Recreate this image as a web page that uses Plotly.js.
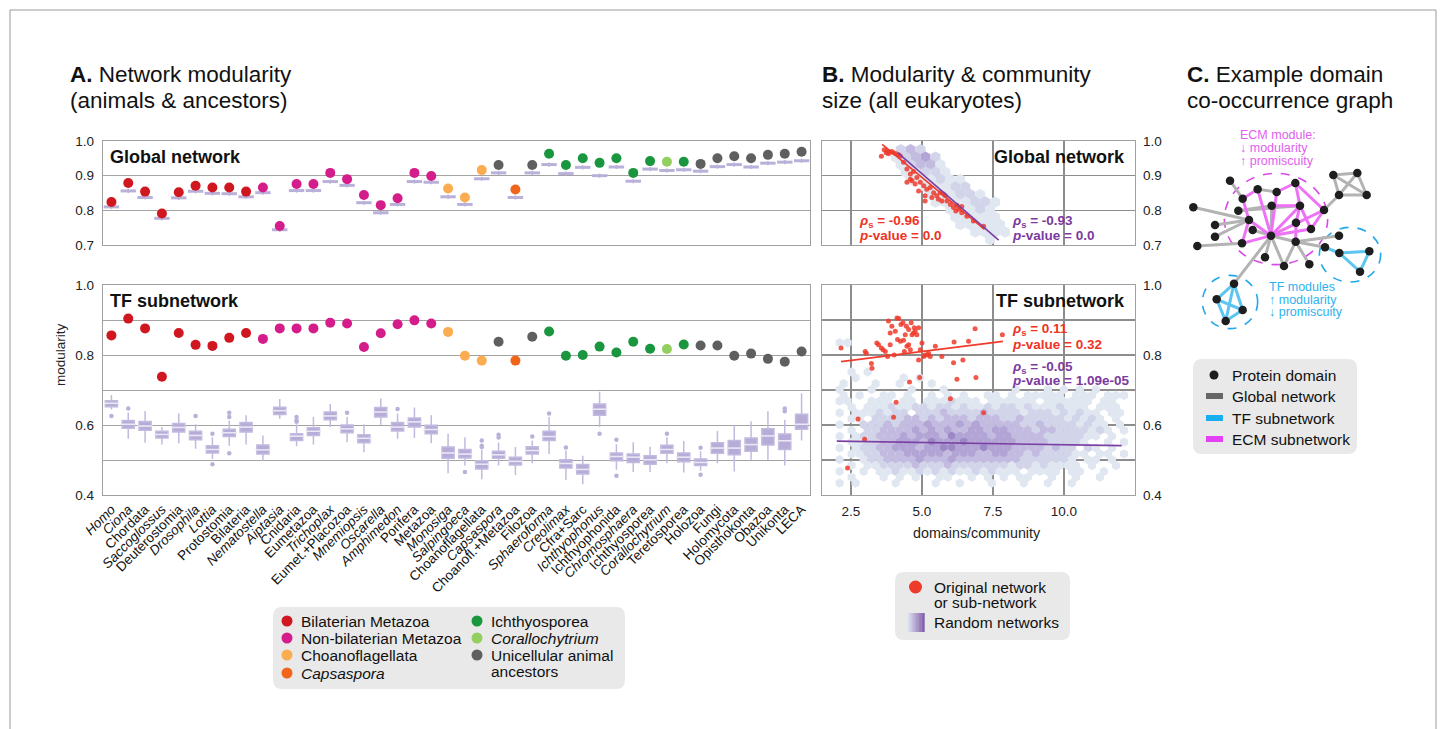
<!DOCTYPE html>
<html><head><meta charset="utf-8">
<script src="https://cdn.plot.ly/plotly-3.0.1.min.js"></script>
<style>html,body{margin:0;padding:0;background:#fff}</style>
</head><body><div id="chart" style="width:1447px;height:729px"></div>
<script>
// ---------------- DATA ----------------
const clades = ['Homo','Ciona','Chordata','Saccoglossus','Deuterostomia','Drosophila','Lottia','Protostomia','Bilateria','Nematostella','Aiptasia','Cnidaria','Eumetazoa','Trichoplax','Eumet.+Placozoa','Mnemiopsis','Oscarella','Amphimedon','Porifera','Metazoa','Monosiga','Salpingoeca','Choanoflagellata','Capsaspora','Choanofl.+Metazoa','Filozoa','Sphaeroforma','Creolimax','Cfra+Sarc','Ichthyophonus','Ichthyophonida','Chromosphaera','Ichthyosporea','Corallochytrium','Teretosporea','Holozoa','Fungi','Holomycota','Opisthokonta','Obazoa','Unikonta','LECA'];
const isSpecies = [1,1,0,1,0,1,1,0,0,1,1,0,0,1,0,1,1,1,0,0,1,1,0,1,0,0,1,1,0,1,0,1,0,1,0,0,0,0,0,0,0,0];
const cladeGroup = [0,0,0,0,0,0,0,0,0, 1,1,1,1,1,1,1,1,1,1,1, 2,2,2, 6,3,6, 4,4,4,4,4,4,4, 5,4, 6,6,6,6,6,6,6];
const groupNames = ['Bilaterian Metazoa','Non-bilaterian Metazoa','Choanoflagellata','<i>Capsaspora</i>','Ichthyosporea','<i>Corallochytrium</i>','Unicellular animal ancestors'];
const groupColors = ['#d0171f','#d41d8b','#fbac50','#f0651a','#1a963f','#93cf5e','#5f5f5f'];

const globalModularity = [0.824,0.879,0.854,0.791,0.852,0.871,0.866,0.866,0.854,0.866,0.755,0.876,0.876,0.908,0.890,0.844,0.815,0.835,0.908,0.899,0.863,0.837,0.916,0.931,0.860,0.931,0.963,0.931,0.950,0.937,0.950,0.908,0.942,0.940,0.940,0.934,0.950,0.956,0.950,0.960,0.963,0.969];
const globalRandomMedian = [0.810,0.856,0.837,0.777,0.836,0.855,0.849,0.848,0.839,0.851,0.744,0.857,0.857,0.883,0.872,0.822,0.793,0.817,0.883,0.881,0.839,0.817,0.891,0.908,0.837,0.908,0.932,0.906,0.924,0.900,0.925,0.884,0.919,0.915,0.917,0.913,0.926,0.932,0.925,0.936,0.939,0.943];

const tfModularity = [0.856,0.904,0.876,0.738,0.863,0.829,0.826,0.849,0.863,0.846,0.876,0.876,0.876,0.892,0.890,0.823,0.862,0.888,0.899,0.890,0.866,0.798,0.784,0.838,0.784,0.852,0.867,0.798,0.800,0.824,0.807,0.838,0.818,0.817,0.830,0.827,0.827,0.798,0.804,0.789,0.781,0.810];
const tfRandQ3 = [0.669,0.613,0.610,0.582,0.604,0.582,0.541,0.588,0.607,0.543,0.651,0.575,0.592,0.637,0.600,0.572,0.650,0.607,0.620,0.599,0.537,0.530,0.498,0.525,0.508,0.538,0.582,0.501,0.487,0.660,0.520,0.517,0.512,0.542,0.520,0.503,0.549,0.556,0.563,0.589,0.574,0.631];
const tfRandMedian = [0.662,0.602,0.597,0.573,0.593,0.570,0.530,0.578,0.594,0.529,0.641,0.568,0.582,0.626,0.589,0.562,0.637,0.594,0.609,0.587,0.520,0.517,0.488,0.515,0.496,0.527,0.567,0.490,0.473,0.645,0.510,0.508,0.501,0.530,0.508,0.493,0.534,0.534,0.544,0.569,0.555,0.602];
const tfRandQ1 = [0.652,0.591,0.585,0.563,0.580,0.558,0.520,0.567,0.580,0.517,0.630,0.556,0.570,0.615,0.578,0.549,0.623,0.583,0.594,0.575,0.505,0.506,0.474,0.505,0.486,0.517,0.556,0.477,0.460,0.628,0.498,0.493,0.488,0.519,0.495,0.484,0.519,0.515,0.525,0.543,0.530,0.588];
const tfRandLow = [0.644,0.561,0.549,0.544,0.548,0.532,0.503,0.541,0.544,0.498,0.618,0.539,0.544,0.594,0.551,0.522,0.601,0.561,0.563,0.548,0.462,0.484,0.445,0.484,0.457,0.491,0.517,0.443,0.431,0.594,0.472,0.466,0.466,0.491,0.464,0.469,0.491,0.467,0.501,0.501,0.484,0.556];
const tfRandHigh = [0.686,0.636,0.640,0.594,0.633,0.602,0.565,0.613,0.628,0.570,0.674,0.602,0.623,0.660,0.623,0.602,0.676,0.633,0.650,0.628,0.575,0.565,0.530,0.550,0.537,0.556,0.623,0.527,0.512,0.695,0.545,0.551,0.538,0.565,0.554,0.525,0.583,0.599,0.611,0.639,0.615,0.690];
const tfOutlierClade = ['Homo','Ciona','Drosophila','Lottia','Lottia','Protostomia','Protostomia','Protostomia','Cnidaria','Cnidaria','Cnidaria','Eumet.+Placozoa','Amphimedon','Salpingoeca','Choanoflagellata','Choanoflagellata','Choanoflagellata','Capsaspora','Capsaspora','Filozoa','Sphaeroforma','Creolimax','Ichthyophonus','Ichthyophonida','Ichthyophonida','Corallochytrium','Holozoa','Holozoa','Unikonta','Unikonta'];
const tfOutlierValue = [0.626,0.647,0.626,0.575,0.488,0.635,0.623,0.519,0.623,0.613,0.609,0.635,0.646,0.466,0.556,0.541,0.537,0.572,0.564,0.567,0.633,0.536,0.575,0.558,0.455,0.575,0.535,0.458,0.647,0.639];

// Panel B: original networks (domains/community vs modularity)
const globalOrigSize = [3.57,3.67,3.74,3.77,3.82,3.86,3.94,4.0,4.09,4.18,4.24,4.35,4.47,4.47,4.59,4.59,4.65,4.70,4.76,4.82,4.88,4.94,5.06,5.11,5.11,5.17,5.29,5.35,5.41,5.52,5.58,5.64,5.70,5.76,5.82,5.88,6.0,6.11,6.19,6.23,6.29,6.40,6.40,6.58,6.81,7.17];
const globalOrigMod = [0.956,0.975,0.966,0.971,0.963,0.968,0.970,0.966,0.963,0.960,0.956,0.939,0.919,0.881,0.905,0.890,0.885,0.912,0.876,0.895,0.856,0.881,0.871,0.827,0.842,0.861,0.866,0.837,0.851,0.842,0.832,0.851,0.827,0.847,0.842,0.827,0.817,0.808,0.798,0.815,0.803,0.793,0.811,0.783,0.769,0.754];
const tfOrigSize = [2.15,2.38,2.75,2.98,3.0,3.04,3.22,3.24,3.41,3.47,3.57,3.63,3.71,3.79,3.82,3.88,3.88,3.94,4.0,4.02,4.06,4.09,4.12,4.14,4.18,4.24,4.26,4.33,4.35,4.38,4.41,4.45,4.47,4.53,4.53,4.56,4.59,4.62,4.65,4.70,4.73,4.76,4.82,4.88,4.88,4.92,4.94,5.0,5.06,5.11,5.2,5.23,5.29,5.47,5.7,6.0,6.11,6.13,6.23,6.44,6.64,6.87,6.9,7.17,7.83];
const tfOrigMod = [0.820,0.477,0.617,0.559,0.810,0.805,0.776,0.762,0.834,0.829,0.820,0.815,0.810,0.796,0.897,0.829,0.863,0.882,0.622,0.800,0.868,0.665,0.906,0.844,0.904,0.839,0.887,0.892,0.842,0.810,0.858,0.882,0.825,0.873,0.829,0.723,0.815,0.892,0.858,0.863,0.878,0.868,0.858,0.878,0.786,0.736,0.815,0.834,0.796,0.800,0.800,0.805,0.796,0.825,0.796,0.675,0.778,0.837,0.731,0.786,0.839,0.875,0.736,0.635,0.858];
// regression lines (end points)
const globalFitOrigX = [3.6,7.2],  globalFitOrigY = [0.990,0.745];
const globalFitRandX = [4.15,7.7], globalFitRandY = [0.966,0.714];
const tfFitOrigX = [2.15,7.85],    tfFitOrigY = [0.781,0.839];
const tfFitRandX = [2.0,12.03],    tfFitRandY = [0.554,0.541];
// hexbin counts of random networks (density class per bin, '.' = empty); rows top->bottom
const globalHexBins = {x0:3.9, dx:0.35, yTop:0.975, dy:0.0216};
const globalHexRows = [
 '.232........',
 '12342.......',
 '.12331......',
 '.11221......',
 '..111211....',
 '...11122....',
 '....111221..',
 '....1111221.',
 '......11121.',
 '......11111.',
 '.......11111',
 '........1111',
 '..........1.'];
const tfHexBins = {x0:2.1, dx:0.282, yTop:0.835, dy:0.0167};
const tfHexRows = [
 '11..................................',
 '....................................',
 '....................................',
 '....................................',
 '....................................',
 '.1.1................................',
 '..1.....1.1.........................',
 '1...1..1...1........................',
 '1...1....1...1........1...1.1.1.1...',
 '1.1..11.1..1.1.1..11.1.11111.111.111',
 '11..111.11.1112111.111111.111111.11.',
 '.1.1112112212212112122121112111.111.',
 '1.1112122.22232222322221222121211.11',
 '.11.22223323233323332232222212121.1.',
 '1..2223233343334343333322322221211.1',
 '.1.2233334343433443443332332222121.1',
 '1.1223334344435444434433332222211.1.',
 '.112233444354445444444333322221..1.1',
 '1.1223344434455444544433332322.21.1.',
 '.112233344444344433443323222211.11.1',
 '1..122333343334333333332222221.11.1.',
 '.1.112222322232222222122121111.1..1.',
 '1..1.112112121211212111.1111.11..1..',
 '.1...1.1.1..11..1.1.1.11..1..1..1...',
 '1.1....1....1..1...1...1..1..1......'];
const hexPalette = ['#e0e7f1','#d2d5ea','#c3bce0','#b2a5d5','#9d88c6','#8568b3'];

// Panel C: example graph (layout coordinates)
const nodeX = [180,263,320,376,218,305,390,462,70,205,237,135,378,248,423,135,303,216,377,82,285,342,418,490,562,507,590,507,465,508,598,570,192,140,218,167];
const nodeY = [272,298,306,279,326,347,347,360,352,362,390,405,398,420,417,440,437,460,455,468,502,528,523,255,249,315,315,437,472,489,484,545,581,628,660,693];
const globalEdges = [[0,4],[9,5],[8,10],[11,10],[15,10],[19,17],[13,16],[16,20],[16,21],[16,32],[5,16],[16,18],[18,27],[18,28],[18,22],[18,21],[7,25],[1,2],[9,6],[23,24],[23,25],[24,26],[25,26],[23,26],[24,25]];
const ecmEdges = [[4,1],[1,16],[2,3],[3,6],[3,7],[5,6],[6,16],[6,12],[6,14],[12,18],[10,16],[10,17],[10,4],[17,16],[16,7],[16,14],[14,7],[2,16]];
const tfEdges = [[28,29],[29,30],[30,31],[31,29],[32,33],[32,34],[32,35],[33,34],[33,35],[34,35]];
const moduleCircles = [
  {cx:318, cy:387, rx:155, ry:137, kind:'ecm'},
  {cx:540, cy:494, rx:92,  ry:82,  kind:'tf'},
  {cx:180, cy:636, rx:83,  ry:80,  kind:'tf'}];

// ---------------- HELPERS ----------------
const W = 1447, H = 729;
const px = v => v / W, py = v => 1 - v / H;
const FONT = 'Liberation Sans, Arial, Helvetica, sans-serif';
const LAV = '#bab1da';
const C_ECM = '#e25ef0', C_TF = '#2eb2ee', C_GRAY = '#b3b3b3';

function hexPoints(rows, g) {
  const xs = [], ys = [], cs = [];
  rows.forEach((row, r) => {
    for (let i = 0; i < row.length; i++) {
      const ch = row[i];
      if (ch === '.') continue;
      xs.push(g.x0 + i * g.dx + (r % 2 ? g.dx / 2 : 0));
      ys.push(g.yTop - r * g.dy);
      cs.push(hexPalette[+ch - 1]);
    }
  });
  return {xs, ys, cs};
}
function edgeXY(edges) {
  const x = [], y = [];
  edges.forEach(([a, b]) => { x.push(nodeX[a], nodeX[b], null); y.push(nodeY[a], nodeY[b], null); });
  return {x, y};
}
function roundRect(x0, y0, x1, y1, r) {
  const X = px, Y = py;
  return `M${X(x0+r)},${Y(y0)} L${X(x1-r)},${Y(y0)} Q${X(x1)},${Y(y0)} ${X(x1)},${Y(y0+r)} L${X(x1)},${Y(y1-r)} Q${X(x1)},${Y(y1)} ${X(x1-r)},${Y(y1)} L${X(x0+r)},${Y(y1)} Q${X(x0)},${Y(y1)} ${X(x0)},${Y(y1-r)} L${X(x0)},${Y(y0+r)} Q${X(x0)},${Y(y0)} ${X(x0+r)},${Y(y0)} Z`;
}
const LEG = {family: FONT, size: 15.5, color: '#111'};
function ann(text, x, y, o = {}) {
  return Object.assign({text, x: px(x), y: py(y), xref: 'paper', yref: 'paper', showarrow: false,
    xanchor: 'left', yanchor: 'middle', font: LEG}, o);
}
const dotColors = cladeGroup.map(g => groupColors[g]);
const tickText = clades.map((c, i) => isSpecies[i] ? '<i>' + c + '</i>' : c);

// ---------------- TRACES ----------------
const traces = [];
// A global
traces.push({type: 'scatter', mode: 'markers', x: clades, y: globalRandomMedian, xaxis: 'x', yaxis: 'y',
  marker: {symbol: 'line-ew', size: 11, line: {width: 3, color: LAV}},
  error_y: {type: 'constant', value: 0.006, thickness: 1.5, width: 0, color: LAV}});
traces.push({type: 'scatter', mode: 'markers', x: clades, y: globalModularity, xaxis: 'x', yaxis: 'y',
  marker: {size: 10, color: dotColors}});
// A TF
traces.push({type: 'box', x: clades, q1: tfRandQ1, median: tfRandMedian, q3: tfRandQ3,
  lowerfence: tfRandLow, upperfence: tfRandHigh, xaxis: 'x2', yaxis: 'y2', boxpoints: false,
  width: 0.72, whiskerwidth: 0, fillcolor: '#b6acd7', line: {color: '#c2badf', width: 1.5}});
traces.push({type: 'scatter', mode: 'markers', x: clades, y: tfRandMedian, xaxis: 'x2', yaxis: 'y2',
  marker: {symbol: 'line-ew', size: 11, line: {width: 1.5, color: '#ebe7f5'}}});
traces.push({type: 'scatter', mode: 'markers', x: tfOutlierClade, y: tfOutlierValue, xaxis: 'x2', yaxis: 'y2',
  marker: {size: 4.5, color: LAV}});
traces.push({type: 'scatter', mode: 'markers', x: clades, y: tfModularity, xaxis: 'x2', yaxis: 'y2',
  marker: {size: 10, color: dotColors}});
// B global
const gh = hexPoints(globalHexRows, globalHexBins);
traces.push({type: 'scatter', mode: 'markers', x: gh.xs, y: gh.ys, xaxis: 'x3', yaxis: 'y3',
  marker: {symbol: 'hexagon', size: 11.5, color: gh.cs, line: {width: 0}}});
traces.push({type: 'scatter', mode: 'markers', x: globalOrigSize, y: globalOrigMod, xaxis: 'x3', yaxis: 'y3',
  marker: {size: 5, color: '#ef3b2c', opacity: 0.85}});
traces.push({type: 'scatter', mode: 'lines', x: globalFitOrigX, y: globalFitOrigY, xaxis: 'x3', yaxis: 'y3',
  line: {color: '#ef3b2c', width: 1.6}});
traces.push({type: 'scatter', mode: 'lines', x: globalFitRandX, y: globalFitRandY, xaxis: 'x3', yaxis: 'y3',
  line: {color: '#7b3fa3', width: 1.6}});
// B TF
const th = hexPoints(tfHexRows, tfHexBins);
traces.push({type: 'scatter', mode: 'markers', x: th.xs, y: th.ys, xaxis: 'x4', yaxis: 'y4',
  marker: {symbol: 'hexagon', size: 9.3, color: th.cs, line: {width: 0}}});
traces.push({type: 'scatter', mode: 'markers', x: tfOrigSize, y: tfOrigMod, xaxis: 'x4', yaxis: 'y4',
  marker: {size: 5, color: '#ef3b2c', opacity: 0.85}});
traces.push({type: 'scatter', mode: 'lines', x: tfFitOrigX, y: tfFitOrigY, xaxis: 'x4', yaxis: 'y4',
  line: {color: '#ef3b2c', width: 1.6}});
traces.push({type: 'scatter', mode: 'lines', x: tfFitRandX, y: tfFitRandY, xaxis: 'x4', yaxis: 'y4',
  line: {color: '#7b3fa3', width: 1.6}});
// C graph
[[globalEdges, C_GRAY], [ecmEdges, '#ee72f6'], [tfEdges, '#5cc5f2']].forEach(([E, col]) => {
  const e = edgeXY(E);
  traces.push({type: 'scatter', mode: 'lines', x: e.x, y: e.y, xaxis: 'x5', yaxis: 'y5',
    line: {color: col, width: 3}});
});
traces.push({type: 'scatter', mode: 'markers', x: nodeX, y: nodeY, xaxis: 'x5', yaxis: 'y5',
  marker: {size: 8.5, color: '#1e1e1e'}});

// ---------------- LAYOUT ----------------
const boxLine = {showline: true, mirror: true, linecolor: '#a0a0a0', linewidth: 1.2, zeroline: false};
const tf = {family: FONT, size: 13.5, color: '#222'};
const gridA = {showgrid: true, gridcolor: '#a3a3a3', gridwidth: 1};
const gridB = {showgrid: true, gridcolor: '#8d8d8d', gridwidth: 1.6};
const layout = {
  width: W, height: H, margin: {l: 0, r: 0, t: 0, b: 0}, paper_bgcolor: '#fff', plot_bgcolor: '#fff',
  showlegend: false, hovermode: false, font: {family: FONT},
  xaxis: Object.assign({domain: [px(103), px(810)], anchor: 'y', type: 'category', categoryorder: 'array',
    categoryarray: clades, range: [-0.5, 41.5], showticklabels: false, showgrid: false, ticks: ''}, boxLine),
  yaxis: Object.assign({domain: [py(245), py(141)], anchor: 'x', range: [0.7, 1.0], tickvals: [0.7, 0.8, 0.9, 1.0],
    ticktext: ['0.7', '0.8', '0.9', '1.0'], ticks: 'outside', ticklen: 5, tickcolor: 'rgba(0,0,0,0)', tickfont: tf}, gridA, boxLine),
  xaxis2: Object.assign({domain: [px(103), px(810)], anchor: 'y2', type: 'category', categoryorder: 'array',
    categoryarray: clades, range: [-0.5, 41.5], tickvals: clades, ticktext: tickText, tickangle: -45,
    tickfont: {family: FONT, size: 13.5, color: '#111'}, showgrid: false, ticks: ''}, boxLine),
  yaxis2: Object.assign({domain: [py(495), py(285)], anchor: 'x2', range: [0.4, 1.0], tickvals: [0.4, 0.6, 0.8, 1.0],
    ticktext: ['0.4', '0.6', '0.8', '1.0'], ticks: 'outside', ticklen: 5, tickcolor: 'rgba(0,0,0,0)', tickfont: tf,
    minor: {tickvals: [0.5, 0.7, 0.9], showgrid: true, gridcolor: '#a3a3a3', gridwidth: 1, ticks: ''}}, gridA, boxLine),
  xaxis3: Object.assign({domain: [px(822), px(1135)], anchor: 'y3', range: [1.48, 12.5], tickvals: [2.5, 5, 7.5, 10],
    showticklabels: false, ticks: ''}, gridB, boxLine),
  yaxis3: Object.assign({domain: [py(245), py(141)], anchor: 'x3', side: 'right', range: [0.7, 1.0],
    tickvals: [0.7, 0.8, 0.9, 1.0], ticktext: ['0.7', '0.8', '0.9', '1.0'], ticks: 'outside', ticklen: 4,
    tickcolor: 'rgba(0,0,0,0)', tickfont: tf}, gridB, boxLine),
  xaxis4: Object.assign({domain: [px(822), px(1135)], anchor: 'y4', range: [1.48, 12.5], tickvals: [2.5, 5, 7.5, 10],
    ticktext: ['2.5', '5.0', '7.5', '10.0'], ticks: 'outside', ticklen: 4, tickcolor: 'rgba(0,0,0,0)', tickfont: tf}, gridB, boxLine),
  yaxis4: Object.assign({domain: [py(495), py(285)], anchor: 'x4', side: 'right', range: [0.4, 1.0],
    tickvals: [0.4, 0.6, 0.8, 1.0], ticktext: ['0.4', '0.6', '0.8', '1.0'], ticks: 'outside', ticklen: 4,
    tickcolor: 'rgba(0,0,0,0)', tickfont: tf,
    minor: {tickvals: [0.5, 0.7, 0.9], showgrid: true, gridcolor: '#8d8d8d', gridwidth: 1.6, ticks: ''}}, gridB, boxLine),
  xaxis5: {domain: [px(1170), px(1430)], anchor: 'y5', range: [0, 780], visible: false},
  yaxis5: {domain: [py(340), py(90)], anchor: 'x5', range: [750, 0], visible: false},
  shapes: [], annotations: []
};

// page frame
layout.shapes.push({type: 'rect', xref: 'paper', yref: 'paper', x0: px(10), x1: px(1436), y0: py(760), y1: py(10),
  line: {color: '#9a9a9a', width: 1}});
// module circles (panel C)
moduleCircles.forEach(c => layout.shapes.push({type: 'circle', xref: 'x5', yref: 'y5',
  x0: c.cx - c.rx, x1: c.cx + c.rx, y0: c.cy - c.ry, y1: c.cy + c.ry, layer: 'below',
  line: {color: c.kind === 'ecm' ? '#d84ae8' : '#22a8ea', width: 1.6, dash: 'dash'}}));

// legend A
layout.shapes.push({type: 'path', xref: 'paper', yref: 'paper', path: roundRect(273, 607, 625, 689, 9),
  fillcolor: '#e9e9e9', line: {width: 0}});
const legPos = [[287, 621], [287, 638], [287, 655], [287, 673], [477, 621], [477, 638], [477, 655]];
groupNames.forEach((name, i) => {
  const [cx, cy] = legPos[i];
  layout.shapes.push({type: 'circle', xref: 'paper', yref: 'paper', x0: px(cx - 5.5), x1: px(cx + 5.5),
    y0: py(cy + 5.5), y1: py(cy - 5.5), fillcolor: groupColors[i], line: {width: 0}});
  if (i === 6) {
    layout.annotations.push(ann('Unicellular animal', cx + 12, 655));
    layout.annotations.push(ann('ancestors', cx + 12, 671));
  } else {
    layout.annotations.push(ann(name, cx + 12, cy));
  }
});

// legend B
layout.shapes.push({type: 'path', xref: 'paper', yref: 'paper', path: roundRect(895, 572, 1070, 640, 9),
  fillcolor: '#e9e9e9', line: {width: 0}});
layout.shapes.push({type: 'circle', xref: 'paper', yref: 'paper', x0: px(909), x1: px(922), y0: py(593.5), y1: py(580.5),
  fillcolor: '#ef3b2c', line: {width: 0}});
const gradA = [224, 230, 242], gradB = [132, 96, 173];
for (let k = 0; k < 12; k++) {
  const t = k / 11, c = gradA.map((a, j) => Math.round(a + (gradB[j] - a) * t));
  layout.shapes.push({type: 'rect', xref: 'paper', yref: 'paper', x0: px(907 + k * 1.45), x1: px(907 + (k + 1) * 1.45 + 0.3),
    y0: py(632), y1: py(613), fillcolor: `rgb(${c})`, line: {width: 0}});
}
layout.annotations.push(ann('Original network', 932, 587));
layout.annotations.push(ann('or sub-network', 932, 602));
layout.annotations.push(ann('Random networks', 932, 622));

// legend C
layout.shapes.push({type: 'path', xref: 'paper', yref: 'paper', path: roundRect(1193, 359, 1357, 454, 9),
  fillcolor: '#e9e9e9', line: {width: 0}});
layout.shapes.push({type: 'circle', xref: 'paper', yref: 'paper', x0: px(1209.5), x1: px(1218.5), y0: py(379.5), y1: py(370.5),
  fillcolor: '#1e1e1e', line: {width: 0}});
[['Global network', '#666666', 396], ['TF subnetwork', '#19aef0', 418], ['ECM subnetwork', '#e440f5', 439]].forEach(([t, col, y]) => {
  layout.shapes.push({type: 'rect', xref: 'paper', yref: 'paper', x0: px(1206), x1: px(1223), y0: py(y + 3), y1: py(y - 3),
    fillcolor: col, line: {width: 0}});
  layout.annotations.push(ann(t, 1230, y));
});
layout.annotations.push(ann('Protein domain', 1230, 375));

// titles
const big = {family: FONT, size: 22.5, color: '#111'};
layout.annotations.push(ann('<b>A.</b> Network modularity', 68, 75, {font: big}));
layout.annotations.push(ann('(animals & ancestors)', 68, 100, {font: big}));
layout.annotations.push(ann('<b>B.</b> Modularity & community', 820, 75, {font: big}));
layout.annotations.push(ann('size (all eukaryotes)', 820, 100, {font: big}));
layout.annotations.push(ann('<b>C.</b> Example domain', 1185, 75, {font: big}));
layout.annotations.push(ann('co-occurrence graph', 1185, 100, {font: big}));
const sub = {family: FONT, size: 18, color: '#111'};
layout.annotations.push(ann('<b>Global network</b>', 108, 157, {font: sub}));
layout.annotations.push(ann('<b>TF subnetwork</b>', 108, 301, {font: sub}));
layout.annotations.push(ann('<b>Global network</b>', 1127, 157, {font: sub, xanchor: 'right'}));
layout.annotations.push(ann('<b>TF subnetwork</b>', 1127, 301, {font: sub, xanchor: 'right'}));
layout.annotations.push(ann('modularity', 60, 355, {textangle: -90, xanchor: 'center', yanchor: 'middle', font: tf}));
layout.annotations.push(ann('domains/community', 977, 533, {xanchor: 'center', font: {family: FONT, size: 14.3, color: '#222'}}));

// statistics text
const red = {family: FONT, size: 13.5, color: '#ee3424'}, pur = {family: FONT, size: 13.5, color: '#7b3aa0'};
const rho = v => `<b><i>ρ</i><sub>s</sub> = ${v}</b>`, pv = v => `<b><i>p</i>-value = ${v}</b>`;
layout.annotations.push(ann(rho('-0.96'), 857, 221, {font: red}));
layout.annotations.push(ann(pv('0.0'), 857, 235, {font: red}));
layout.annotations.push(ann(rho('-0.93'), 1010, 221, {font: pur}));
layout.annotations.push(ann(pv('0.0'), 1010, 235, {font: pur}));
layout.annotations.push(ann(rho('0.11'), 1010, 330, {font: red}));
layout.annotations.push(ann(pv('0.32'), 1010, 344, {font: red}));
layout.annotations.push(ann(rho('-0.05'), 1010, 367, {font: pur}));
layout.annotations.push(ann(pv('1.09e-05'), 1010, 380, {font: pur}));

// panel C texts
const ecmF = {family: FONT, size: 12.5, color: C_ECM}, tfF = {family: FONT, size: 12.5, color: C_TF};
layout.annotations.push(ann('ECM module:', 1238, 135, {font: ecmF}));
layout.annotations.push(ann('↓ modularity', 1238, 148, {font: ecmF}));
layout.annotations.push(ann('↑ promiscuity', 1238, 161, {font: ecmF}));
layout.annotations.push(ann('TF modules', 1267, 287, {font: tfF}));
layout.annotations.push(ann('↑ modularity', 1267, 300, {font: tfF}));
layout.annotations.push(ann('↓ promiscuity', 1267, 312, {font: tfF}));

Plotly.newPlot('chart', traces, layout, {staticPlot: true, displayModeBar: false});
</script>
</body></html>
